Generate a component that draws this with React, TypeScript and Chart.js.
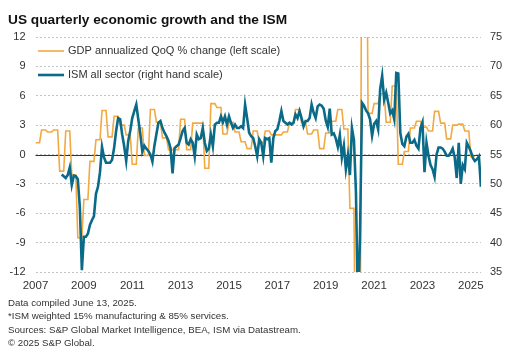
import React, { useEffect, useRef } from "react";
import { Chart, registerables } from "chart.js";

Chart.register(...registerables);

const TITLE = "US quarterly economic growth and the ISM";
const GDP_LABEL = "GDP annualized QoQ % change (left scale)";
const ISM_LABEL = "ISM all sector (right hand scale)";
const FOOTNOTES = [
  "Data compiled June 13, 2025.",
  "*ISM weighted 15% manufacturing & 85% services.",
  "Sources: S&P Global Market Intelligence, BEA, ISM via Datastream.",
  "\u00a9 2025 S&P Global.",
];

const YEAR_TICKS = [2007, 2009, 2011, 2013, 2015, 2017, 2019, 2021, 2023, 2025];
const LEFT_TICKS = [-12, -9, -6, -3, 0, 3, 6, 9, 12];
const RIGHT_TICKS = [35, 40, 45, 50, 55, 60, 65, 70, 75];

// Quarterly GDP, annualized QoQ % change, 2007 Q1 .. 2025 Q1
const GDP_START_YEAR = 2007;
const GDP_QOQ = [
  1.2, 2.5, 2.3, 2.5,
  -1.7, 2.4, -2.1, -8.5,
  -4.6, -0.7, 1.5, 4.5,
  1.8, 3.9, 3.0, 2.0,
  -1.0, 2.7, -0.1, 4.6,
  3.3, 1.7, 0.5, 0.5,
  3.6, 0.5, 3.2, 3.2,
  -1.4, 5.2, 4.8, 2.1,
  3.3, 2.3, 1.3, 0.6,
  2.4, 1.2, 2.4, 2.0,
  2.0, 2.3, 3.2, 4.6,
  3.3, 2.1, 2.5, 0.6,
  2.2, 3.4, 4.6, 2.6,
  -5.5, -28.0, 34.8, 4.2,
  5.2, 6.2, 3.3, 7.0,
  -1.0, 0.3, 2.7, 3.4,
  2.8, 2.4, 4.4, 3.2,
  1.6, 3.0, 3.1, 2.4,
  -0.2,
];

// Monthly ISM all-sector index, Jan 2008 .. May 2025 (plotted at month end)
const ISM_START_YEAR = 2008;
const ISM_MONTHLY = [
  51.6, 51.3, 51.0, 51.5, 52.8, 49.8, 51.4, 51.3, 50.8, 46.0, 35.3, 41.0,
  41.0, 41.5, 43.0, 43.8, 44.5, 48.3, 49.5, 52.0, 56.3, 54.5, 53.6, 53.6,
  53.6, 54.1, 56.1, 59.0, 61.2, 61.0, 58.4, 56.4, 53.9, 57.3, 59.0, 61.2,
  62.4, 63.5, 61.0, 58.5, 55.5, 56.5, 56.0, 55.6, 55.0, 53.8, 56.5, 58.5,
  60.4, 60.7, 59.5, 58.7, 58.1, 57.3, 56.1, 51.8, 56.1, 56.4, 56.7, 57.8,
  59.0, 59.5, 57.0, 56.7, 57.6, 57.0, 54.7, 58.4, 57.6, 57.8, 59.5, 57.0,
  55.6, 56.0, 58.4, 56.4, 60.1, 60.4, 60.4, 61.5, 60.5, 61.5, 60.1, 61.5,
  60.4, 59.5, 60.1, 59.5, 59.5, 59.8, 59.5, 63.5, 61.2, 58.7, 58.1, 57.8,
  56.4, 54.7, 57.6, 57.0, 54.7, 57.8, 57.6, 57.8, 53.6, 57.8, 59.0, 59.3,
  60.7, 62.4, 60.7, 60.4, 60.1, 60.4, 60.1, 60.4, 61.8, 61.2, 62.4, 61.2,
  59.8, 60.7, 60.7, 61.2, 63.5, 62.1, 61.2, 63.2, 63.5, 63.3, 62.8, 60.8,
  59.7, 62.8, 58.4, 58.6, 57.7, 56.3, 58.3, 54.5, 56.5, 52.5, 54.9, 51.5,
  59.5, 57.5, 48.5, 28.0, 41.0, 63.8, 63.3, 62.5, 62.0, 61.0, 58.2, 60.2,
  60.7, 59.3, 66.1, 68.4, 64.3, 65.5, 63.8, 62.0, 62.5, 61.0, 68.9, 68.8,
  58.7, 56.8, 56.4, 58.0, 58.5, 57.0, 57.0, 57.5, 56.5, 56.0, 59.5, 60.5,
  52.0, 57.0, 54.8, 53.2, 52.5, 51.2, 55.0, 56.2, 56.2, 56.0, 55.5, 54.8,
  54.8, 55.3, 56.0, 54.5, 51.0, 57.0, 50.0, 53.2, 52.5, 57.0, 56.3, 55.5,
  54.4, 53.9, 54.2, 54.7, 49.5,
];

const ORANGE = "#F2A941";
const TEAL = "#0B6A88";
const FONT = "'Liberation Sans', Arial, sans-serif";

const gdpPoints = () => {
  const pts: { x: number; y: number }[] = [];
  GDP_QOQ.forEach((v, q) => {
    for (let j = 0; j < 3; j++) {
      pts.push({ x: GDP_START_YEAR + (q * 3 + j) / 12, y: v });
    }
  });
  return pts;
};

const ismPoints = () =>
  ISM_MONTHLY.map((v, m) => ({ x: ISM_START_YEAR + (m + 1) / 12, y: v }));

const extrasPlugin = {
  id: "extras",
  beforeDatasetsDraw(chart: any) {
    const { ctx, chartArea } = chart;
    const y0 = Math.round(chart.scales.yL.getPixelForValue(0)) + 0.5;
    ctx.save();
    ctx.strokeStyle = "#333333";
    ctx.lineWidth = 1;
    ctx.beginPath();
    ctx.moveTo(chartArea.left, y0);
    ctx.lineTo(chartArea.right, y0);
    ctx.stroke();
    ctx.restore();
  },
  afterDraw(chart: any) {
    const { ctx } = chart;
    const rows = [
      { label: GDP_LABEL, color: ORANGE, width: 1.6, y: 51 },
      { label: ISM_LABEL, color: TEAL, width: 2.6, y: 75 },
    ];
    ctx.save();
    ctx.font = `11px ${FONT}`;
    ctx.textBaseline = "middle";
    ctx.textAlign = "left";
    rows.forEach((r) => {
      ctx.strokeStyle = r.color;
      ctx.lineWidth = r.width;
      ctx.beginPath();
      ctx.moveTo(38, r.y);
      ctx.lineTo(64, r.y);
      ctx.stroke();
      ctx.fillStyle = "#333333";
      ctx.fillText(r.label, 68, r.y);
    });
    ctx.restore();
  },
};

export default function App() {
  const ref = useRef<HTMLCanvasElement | null>(null);

  useEffect(() => {
    if (!ref.current) return;
    const chart = new Chart(ref.current, {
      type: "line",
      data: {
        datasets: [
          {
            label: GDP_LABEL,
            data: gdpPoints(),
            yAxisID: "yL",
            borderColor: ORANGE,
            borderWidth: 1.6,
            pointRadius: 0,
            tension: 0,
            order: 2,
          },
          {
            label: ISM_LABEL,
            data: ismPoints(),
            yAxisID: "yR",
            borderColor: TEAL,
            borderWidth: 2.6,
            pointRadius: 0,
            tension: 0,
            order: 1,
          },
        ],
      },
      options: {
        animation: false,
        responsive: false,
        devicePixelRatio: 1,
        layout: { padding: { top: 37, left: 0, right: 0, bottom: 0 } },
        plugins: {
          legend: { display: false },
          title: { display: false },
          tooltip: { enabled: false },
        },
        scales: {
          x: {
            type: "linear",
            min: 2007,
            max: 2025.42,
            afterBuildTicks: (s: any) => {
              s.ticks = YEAR_TICKS.map((v) => ({ value: v }));
            },
            afterFit: (s: any) => {
              s.height = 28;
            },
            ticks: {
              callback: (v: any) => String(v),
              font: { size: 11.5, family: FONT },
              color: "#333333",
              padding: 7,
              maxRotation: 0,
              autoSkip: false,
            },
            grid: { display: false, drawTicks: false },
            border: { display: false },
          },
          yL: {
            type: "linear",
            position: "left",
            min: -12,
            max: 12,
            afterBuildTicks: (s: any) => {
              s.ticks = LEFT_TICKS.map((v) => ({ value: v }));
            },
            afterFit: (s: any) => {
              s.width = 35.5;
            },
            ticks: {
              font: { size: 11, family: FONT },
              color: "#333333",
              padding: 10,
            },
            grid: { color: "#c4c4c4", lineWidth: 1, drawTicks: false },
            border: { display: false, dash: [2, 2] },
          },
          yR: {
            type: "linear",
            position: "right",
            min: 35,
            max: 75,
            afterBuildTicks: (s: any) => {
              s.ticks = RIGHT_TICKS.map((v) => ({ value: v }));
            },
            afterFit: (s: any) => {
              s.width = 44;
            },
            ticks: {
              font: { size: 11, family: FONT },
              color: "#333333",
              padding: 9,
            },
            grid: { display: false, drawTicks: false },
            border: { display: false },
          },
        },
      },
      plugins: [extrasPlugin],
    });
    return () => chart.destroy();
  }, []);

  return (
    <div
      style={{
        position: "absolute",
        left: 0,
        top: 0,
        width: 525,
        height: 363,
        background: "#ffffff",
        fontFamily: FONT,
        color: "#222222",
      }}
    >
      <canvas
        ref={ref}
        width={525}
        height={300}
        style={{ position: "absolute", left: 0, top: 0, width: 525, height: 300 }}
      />
      <div
        style={{
          position: "absolute",
          left: 8,
          top: 12,
          fontSize: 13.7,
          lineHeight: "16px",
          fontWeight: "bold",
          whiteSpace: "nowrap",
          color: "#111111",
        }}
      >
        {TITLE}
      </div>
      <div
        style={{
          position: "absolute",
          left: 8,
          top: 296,
          fontSize: 9.7,
          lineHeight: "13.4px",
          color: "#333333",
          whiteSpace: "nowrap",
        }}
      >
        {FOOTNOTES.map((t, i) => (
          <div key={i}>{t}</div>
        ))}
      </div>
    </div>
  );
}
